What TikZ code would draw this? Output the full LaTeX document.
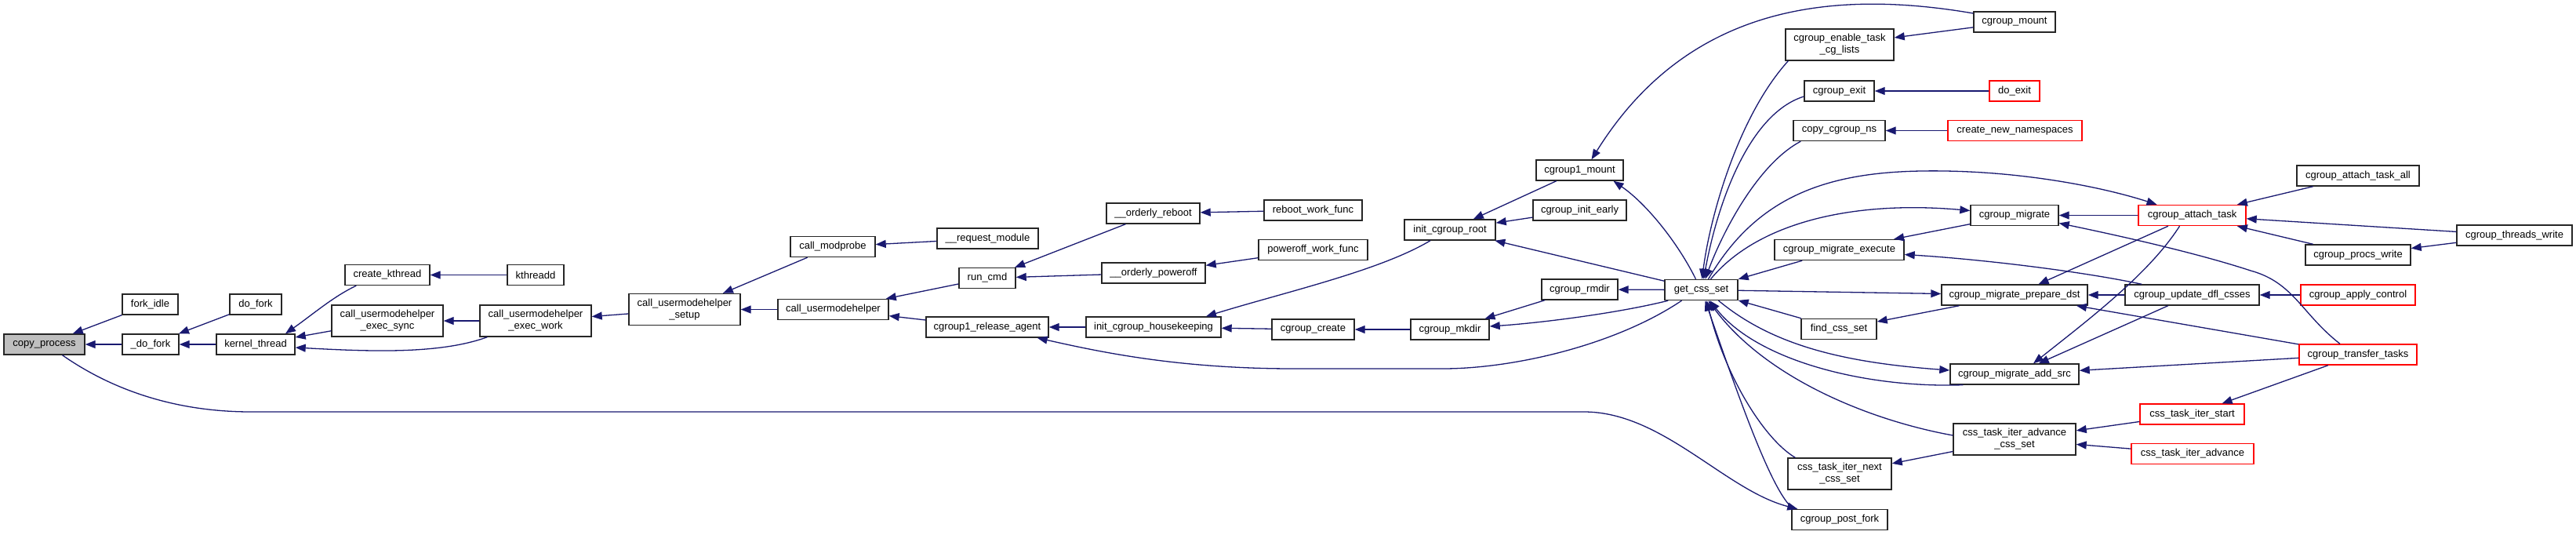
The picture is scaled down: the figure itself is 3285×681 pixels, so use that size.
\documentclass[tikz,border=0pt]{standalone}
\usepackage{fontspec}
\setmainfont{Liberation Sans}
\usetikzlibrary{arrows.meta}
\definecolor{edgeblue}{HTML}{191970}
\definecolor{focusgray}{HTML}{BFBFBF}
\tikzset{
  box/.style={draw=black!85, line width=1.4pt, fill=white, inner sep=0pt, align=center,
              font=\fontsize{13}{15}\selectfont, minimum height=26pt},
  redbox/.style={box, draw=red},
  twoline/.style={minimum height=40pt},
  ed/.style={draw=edgeblue, line width=1.3pt, -{Triangle[length=13pt,width=10pt]}}
}
\begin{document}
\begin{tikzpicture}[x=1pt,y=-1pt]
\useasboundingbox (0,0) rectangle (3285,681);
% nodes
\node[box, fill=focusgray, minimum width=103pt] (cp) at (56.5,439) {copy\_process};
\node[box, minimum width=71pt] (fi) at (191.5,388) {fork\_idle};
\node[box, minimum width=72pt] (df) at (192,439) {\_do\_fork};
\node[box, minimum width=66pt] (dfk) at (326,388) {do\_fork};
\node[box, minimum width=100pt] (kt) at (326,439) {kernel\_thread};
\node[box, minimum width=108pt] (ck) at (494,350.5) {create\_kthread};
\node[box, minimum width=72pt] (kd) at (683,350.5) {kthreadd};
\node[box, twoline, minimum width=142pt] (cus) at (494,409) {call\_usermodehelper\\\_exec\_sync};
\node[box, twoline, minimum width=142pt] (cuw) at (683,409) {call\_usermodehelper\\\_exec\_work};
\node[box, twoline, minimum width=142pt] (cust) at (873,394.5) {call\_usermodehelper\\\_setup};
\node[box, minimum width=108pt] (cm) at (1062,314.5) {call\_modprobe};
\node[box, minimum width=129pt] (rm) at (1259.5,304) {\_\_request\_module};
\node[box, minimum width=141pt] (cu) at (1062.5,394.5) {call\_usermodehelper};
\node[box, minimum width=72pt] (rc) at (1259,354.5) {run\_cmd};
\node[box, minimum width=119pt] (orb) at (1470.5,272) {\_\_orderly\_reboot};
\node[box, minimum width=125pt] (rwf) at (1674.5,268) {reboot\_work\_func};
\node[box, minimum width=132pt] (opo) at (1471,348) {\_\_orderly\_poweroff};
\node[box, minimum width=139pt] (pwf) at (1674.5,318.5) {poweroff\_work\_func};
\node[box, minimum width=156pt] (cra) at (1259,417) {cgroup1\_release\_agent};
\node[box, minimum width=172pt] (ich) at (1471,417) {init\_cgroup\_housekeeping};
\node[box, minimum width=105pt] (cc) at (1674.5,420) {cgroup\_create};
\node[box, minimum width=100pt] (cmk) at (1849,420) {cgroup\_mkdir};
\node[box, minimum width=116pt] (icr) at (1849,293) {init\_cgroup\_root};
\node[box, minimum width=111pt] (c1m) at (2014.5,217) {cgroup1\_mount};
\node[box, minimum width=119pt] (cie) at (2014.5,268) {cgroup\_init\_early};
\node[box, minimum width=97pt] (crd) at (2014.5,369) {cgroup\_rmdir};
\node[box, minimum width=93pt] (gcs) at (2169.5,369.5) {get\_css\_set};
\node[box, twoline, minimum width=138pt] (cet) at (2346,57) {cgroup\_enable\_task\\\_cg\_lists};
\node[box, minimum width=89pt] (cex) at (2345.5,116) {cgroup\_exit};
\node[box, minimum width=117pt] (ccn) at (2345.5,166.5) {copy\_cgroup\_ns};
\node[box, minimum width=165pt] (cme) at (2345.5,318.5) {cgroup\_migrate\_execute};
\node[box, minimum width=96pt] (fcs) at (2345,419.5) {find\_css\_set};
\node[box, twoline, minimum width=132pt] (tin) at (2346,604) {css\_task\_iter\_next\\\_css\_set};
\node[box, minimum width=122pt] (cpf) at (2346,662.5) {cgroup\_post\_fork};
\node[box, minimum width=104pt] (cmt) at (2569,28) {cgroup\_mount};
\node[redbox, minimum width=64pt] (dex) at (2569,116) {do\_exit};
\node[redbox, minimum width=171pt] (cnn) at (2569.5,166.5) {create\_new\_namespaces};
\node[box, minimum width=112pt] (cmg) at (2569,274.5) {cgroup\_migrate};
\node[box, minimum width=186pt] (cpd) at (2569,376) {cgroup\_migrate\_prepare\_dst};
\node[box, minimum width=164pt] (cas) at (2569,477) {cgroup\_migrate\_add\_src};
\node[box, twoline, minimum width=156pt] (tac) at (2569,560) {css\_task\_iter\_advance\\\_css\_set};
\node[redbox, minimum width=137pt] (cat) at (2795.5,274.5) {cgroup\_attach\_task};
\node[box, minimum width=171pt] (cud) at (2795.5,376) {cgroup\_update\_dfl\_csses};
\node[redbox, minimum width=133pt] (tis) at (2795.5,528) {css\_task\_iter\_start};
\node[redbox, minimum width=156pt] (tia) at (2796,578.5) {css\_task\_iter\_advance};
\node[box, minimum width=156pt] (cata) at (3007,224) {cgroup\_attach\_task\_all};
\node[box, minimum width=134pt] (cpw) at (3007,325) {cgroup\_procs\_write};
\node[redbox, minimum width=146pt] (cac) at (3007,376) {cgroup\_apply\_control};
\node[redbox, minimum width=150pt] (ctt) at (3007,452) {cgroup\_transfer\_tasks};
\node[box, minimum width=147pt] (ctw) at (3206.5,300) {cgroup\_threads\_write};
% edges (tip at callee)
\draw[ed] (fi) -- (cp);
\draw[ed] (df) -- (cp);
\draw[ed] (dfk) -- (df);
\draw[ed] (kt) -- (df);
\draw[ed] ([xshift=15pt]ck.south west) .. controls (425,378) and (400,400) .. ([xshift=38pt]kt.north);
\draw[ed] (cus) -- (kt);
\draw[ed] ([xshift=10pt]cuw.south west) .. controls (560,452) and (470,448) .. ([yshift=-4pt]kt.east);
\draw[ed] (kd) -- (ck);
\draw[ed] (cuw) -- (cus);
\draw[ed] (cust) -- (cuw);
\draw[ed] (cm) -- (cust);
\draw[ed] (cu) -- (cust);
\draw[ed] (rm) -- (cm);
\draw[ed] (rc) -- (cu);
\draw[ed] (cra) -- (cu);
\draw[ed] (orb) -- (rc);
\draw[ed] (opo) -- (rc);
\draw[ed] (rwf) -- (orb);
\draw[ed] (pwf) -- (opo);
\draw[ed] (ich) -- (cra);
\draw[ed] ([xshift=-25pt]gcs.south) .. controls (2060,440) and (1930,470) .. (1840,470) -- (1650,470) .. controls (1500,470) and (1400,448) .. ([xshift=-15pt]cra.south east);
\draw[ed] ([xshift=-25pt]icr.south) .. controls (1760,345) and (1640,372) .. ([xshift=67pt]ich.north);
\draw[ed] (cc) -- (ich);
\draw[ed] (cmk) -- (cc);
\draw[ed] (crd) -- (cmk);
\draw[ed] ([xshift=5pt]gcs.south west) .. controls (2060,400) and (1960,412) .. ([yshift=4pt]cmk.east);
\draw[ed] (gcs) -- (crd);
\draw[ed] (c1m) -- (icr);
\draw[ed] (cie) -- (icr);
\draw[ed] (gcs) -- (icr);
\draw[ed] ([yshift=11pt]cmt.west) .. controls (2330,-15) and (2150,10) .. ([xshift=15pt]c1m.north);
\draw[ed] (cmt) -- (cet);
\draw[ed] ([xshift=-7pt]gcs.north) .. controls (2140,310) and (2100,260) .. ([xshift=43pt]c1m.south);
\draw[ed] ([xshift=4pt]cet.south west) .. controls (2215,150) and (2180,280) .. ([xshift=1pt]gcs.north);
\draw[ed] ([yshift=-7pt]cex.west) .. controls (2230,145) and (2190,260) .. ([xshift=3pt]gcs.north);
\draw[ed] ([xshift=10pt]ccn.south west) .. controls (2240,210) and (2195,300) .. ([xshift=5pt]gcs.north);
\draw[ed] (dex) -- (cex);
\draw[ed] (cnn) -- (ccn);
\draw[ed] ([xshift=9pt]gcs.north) .. controls (2240,250) and (2330,220) .. (2450,218) .. controls (2570,216) and (2680,238) .. ([xshift=-45pt]cat.north);
\draw[ed] ([xshift=12pt]gcs.north) .. controls (2240,285) and (2360,255) .. ([yshift=6pt]cmg.west);
\draw[ed] (cmg) -- (cme);
\draw[ed] ([xshift=22pt]cud.north west) .. controls (2650,345) and (2520,330) .. ([yshift=-6pt]cme.east);
\draw[ed] (cme) -- (gcs);
\draw[ed] (fcs) -- (gcs);
\draw[ed] (cpd) -- (fcs);
\draw[ed] (gcs) -- (cpd);
\draw[ed] ([xshift=22pt]gcs.south) .. controls (2260,440) and (2350,462) .. ([yshift=5pt]cas.west);
\draw[ed] ([xshift=17pt]cas.south west) .. controls (2380,495) and (2240,460) .. ([xshift=11pt]gcs.south);
\draw[ed] ([yshift=5pt]tac.west) .. controls (2380,535) and (2250,480) .. ([xshift=9pt]gcs.south);
\draw[ed] ([xshift=10pt]tin.north west) .. controls (2250,560) and (2200,480) .. ([xshift=7pt]gcs.south);
\draw[ed] ([xshift=3pt]cpf.north west) .. controls (2260,630) and (2215,500) .. ([xshift=5pt]gcs.south);
\draw[ed] ([xshift=23pt]cp.south) .. controls (140,495) and (220,525) .. (320,525) -- (2020,525) .. controls (2120,525) and (2200,625) .. ([xshift=8pt]cpf.north west);
\draw[ed] (tac) -- (tin);
\draw[ed] (tis) -- (tac);
\draw[ed] (tia) -- (tac);
\draw[ed] (ctt) -- (tis);
\draw[ed] (ctt) -- (cas);
\draw[ed] (ctt) -- (cpd);
\draw[ed] ([xshift=-23pt]ctt.north) .. controls (2935,400) and (2925,360) .. (2870,345) .. controls (2800,322) and (2700,300) .. ([yshift=-10pt]cmg.east);
\draw[ed] (cud) -- (cpd);
\draw[ed] (cud) -- (cas);
\draw[ed] (cac) -- (cud);
\draw[ed] (cat) -- (cpd);
\draw[ed] ([xshift=-16pt]cat.south) .. controls (2740,350) and (2660,410) .. ([xshift=24pt]cas.north);
\draw[ed] (cat) -- (cmg);
\draw[ed] (cata) -- (cat);
\draw[ed] (ctw) -- (cat);
\draw[ed] (cpw) -- (cat);
\draw[ed] (ctw) -- (cpw);
\end{tikzpicture}
\end{document}
